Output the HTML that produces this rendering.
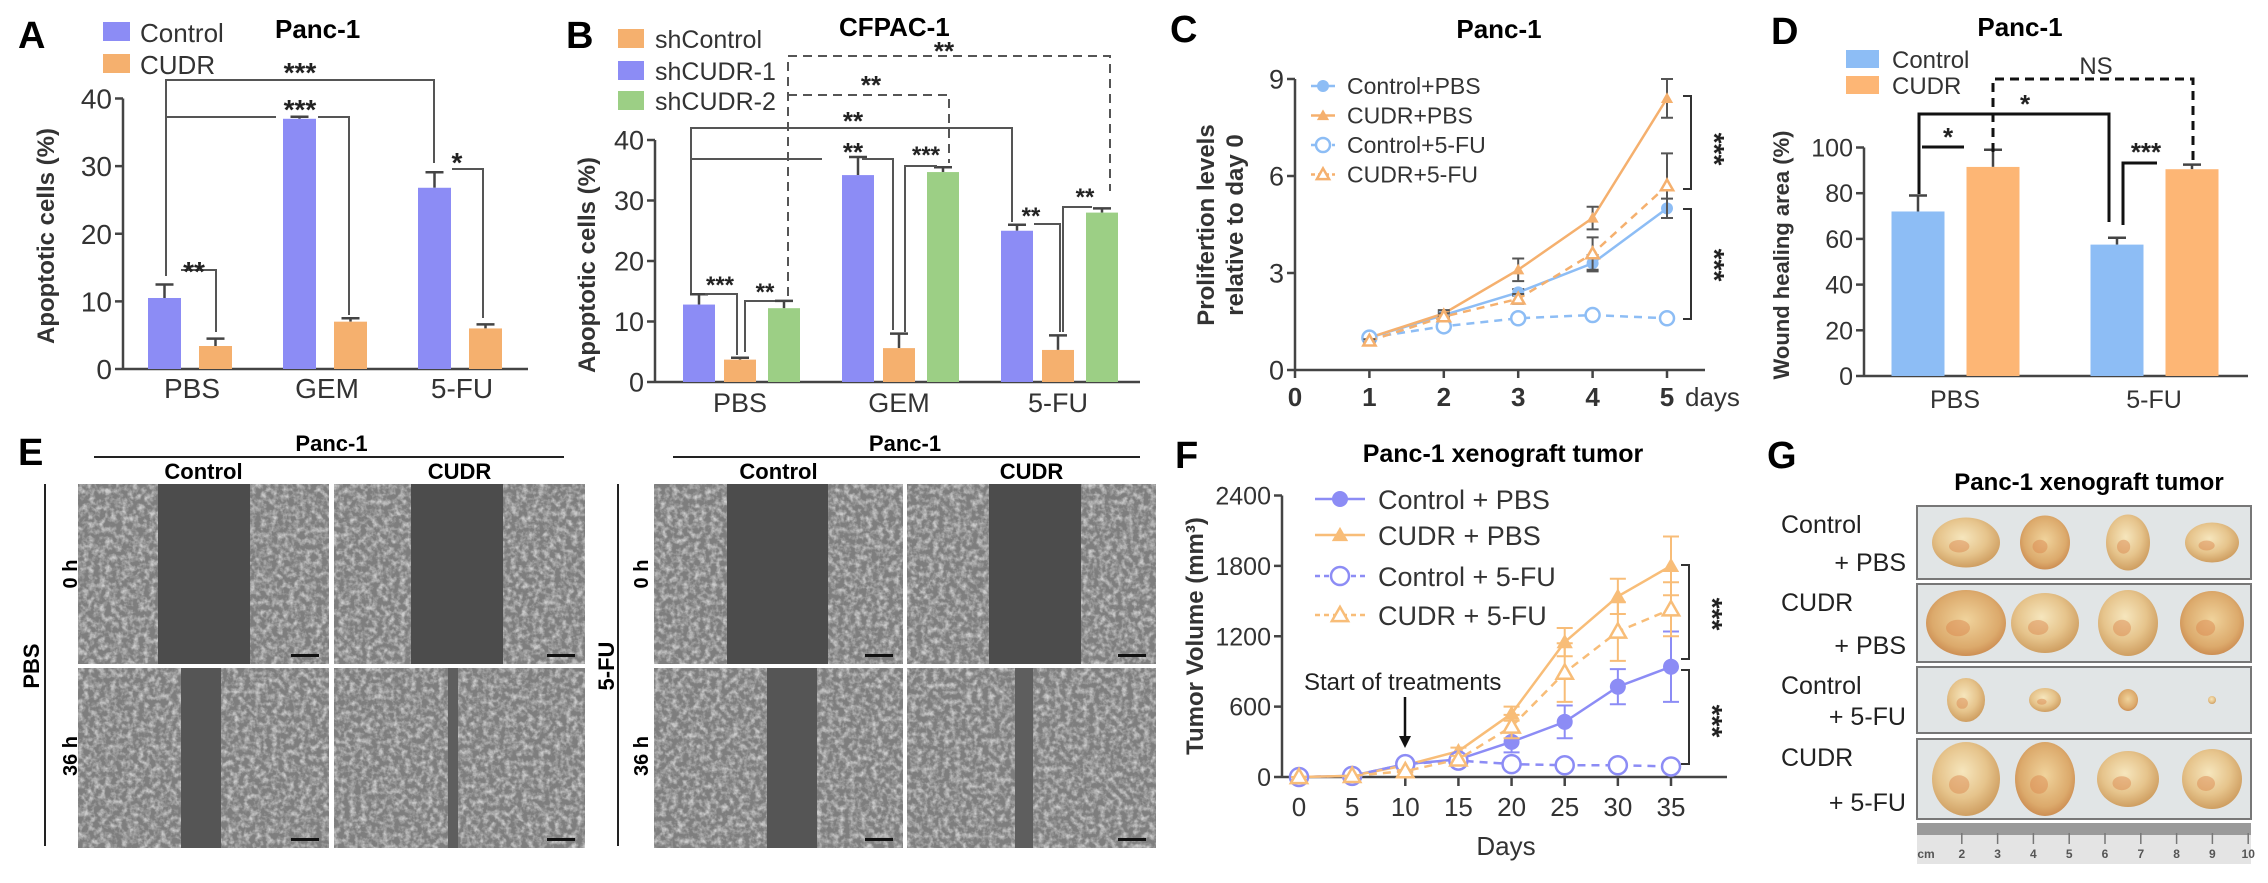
<!DOCTYPE html>
<html><head><meta charset="utf-8">
<style>
html,body{margin:0;padding:0;background:#fff;}
svg{display:block;font-family:"Liberation Sans",Arial,sans-serif;}
.b{font-weight:bold;}
</style></head>
<body>
<svg id="fig" width="2268" height="883" viewBox="0 0 2268 883" xmlns="http://www.w3.org/2000/svg">
<defs>
<filter id="noise" x="0" y="0" width="100%" height="100%">
<feTurbulence type="fractalNoise" baseFrequency="0.18" numOctaves="3" seed="3"/>
<feColorMatrix type="matrix" values="0 0 0 0 0.85  0 0 0 0 0.85  0 0 0 0 0.85  2.2 0 0 0 -0.85"/>
</filter>
<radialGradient id="tum" cx="45%" cy="40%" r="60%">
<stop offset="0" stop-color="#f6e6bd"/><stop offset="0.6" stop-color="#e6c48c"/><stop offset="1" stop-color="#cf9f62"/>
</radialGradient>
<radialGradient id="tum2" cx="50%" cy="45%" r="60%">
<stop offset="0" stop-color="#f0d39c"/><stop offset="0.7" stop-color="#dcaa6c"/><stop offset="1" stop-color="#c7844a"/>
</radialGradient>
</defs>

<!-- Panel A -->
<g id="pA">
<text x="18" y="48" font-size="38" class="b">A</text>
<rect x="103" y="22" width="27" height="19" fill="#8c8cf5"/>
<text x="140" y="42" font-size="26" fill="#333">Control</text>
<rect x="103" y="54" width="27" height="19" fill="#f5b06e"/>
<text x="140" y="74" font-size="26" fill="#333">CUDR</text>
<text x="275" y="38" font-size="26" class="b">Panc-1</text>
<text transform="translate(54,236) rotate(-90)" text-anchor="middle" font-size="24" class="b" fill="#333">Apoptotic cells (%)</text>
</g>

<!-- Panel B -->
<g id="pB">
<text x="566" y="48" font-size="38" class="b">B</text>
<rect x="618" y="29" width="26" height="19" fill="#f5b06e"/>
<text x="655" y="48" font-size="25" fill="#333">shControl</text>
<rect x="618" y="61" width="26" height="19" fill="#8c8cf5"/>
<text x="655" y="80" font-size="25" fill="#333">shCUDR-1</text>
<rect x="618" y="91" width="26" height="19" fill="#9ccf85"/>
<text x="655" y="110" font-size="25" fill="#333">shCUDR-2</text>
<text x="839" y="36" font-size="26" class="b">CFPAC-1</text>
<text transform="translate(595,265) rotate(-90)" text-anchor="middle" font-size="24" class="b" fill="#333">Apoptotic cells (%)</text>
</g>

<!-- Panel C -->
<g id="pC">
<text x="1170" y="42" font-size="38" class="b">C</text>
<text x="1499" y="38" text-anchor="middle" font-size="26" class="b">Panc-1</text>
<text transform="translate(1214,225) rotate(-90)" text-anchor="middle" font-size="24" class="b" fill="#333">Prolifertion levels</text>
<text transform="translate(1243,225) rotate(-90)" text-anchor="middle" font-size="24" class="b" fill="#333">relative to day 0</text>
<text x="1685" y="406" font-size="26" fill="#333">days</text>
</g>

<!-- Panel D -->
<g id="pD">
<text x="1771" y="44" font-size="38" class="b">D</text>
<text x="2020" y="36" text-anchor="middle" font-size="26" class="b">Panc-1</text>
<rect x="1846" y="50" width="33" height="18" fill="#8dbdf5"/>
<text x="1892" y="68" font-size="24" fill="#333">Control</text>
<rect x="1846" y="76" width="33" height="18" fill="#fdb675"/>
<text x="1892" y="94" font-size="24" fill="#333">CUDR</text>
<text transform="translate(1789,255) rotate(-90)" text-anchor="middle" font-size="22" class="b" fill="#333">Wound healing area (%)</text>
</g>

<!-- Panel E -->
<g id="pE">
<text x="18" y="465" font-size="38" class="b">E</text>
</g>

<!-- Panel F -->
<g id="pF">
<text x="1175" y="468" font-size="38" class="b">F</text>
<text x="1503" y="462" text-anchor="middle" font-size="25" class="b">Panc-1 xenograft tumor</text>
<text transform="translate(1203,636) rotate(-90)" text-anchor="middle" font-size="24" class="b" fill="#333">Tumor Volume (mm³)</text>
<text x="1506" y="855" text-anchor="middle" font-size="26" fill="#333">Days</text>
<text x="1304" y="690" font-size="24" fill="#222">Start of treatments</text>
<line x1="1405" y1="697" x2="1405" y2="740" stroke="#111" stroke-width="2.5"/>
<polygon points="1399,736 1411,736 1405,748" fill="#111"/>
</g>

<!-- Panel G -->
<g id="pG">
<text x="1767" y="468" font-size="38" class="b">G</text>
<text x="2089" y="490" text-anchor="middle" font-size="24" class="b">Panc-1 xenograft tumor</text>
</g>
</svg>

<script>
const NS = 'http://www.w3.org/2000/svg';
function mk(parent, tag, attrs, text) {
  const e = document.createElementNS(NS, tag);
  for (const k in attrs) e.setAttribute(k, attrs[k]);
  if (text != null) e.textContent = text;
  parent.appendChild(e);
  return e;
}

/* ---------- DATA ---------- */
// Panel A
const aCats = ['PBS', 'GEM', '5-FU'];
const aControl = [10.5, 37, 26.8];
const aControlErr = [2, 0.3, 2.3];
const aCudr = [3.4, 7, 6];
const aCudrErr = [1.1, 0.5, 0.6];
const aTicks = [0, 10, 20, 30, 40];
// Panel B
const bCats = ['PBS', 'GEM', '5-FU'];
const bShCudr1 = [12.8, 34.2, 25];
const bShCudr1Err = [1.7, 3, 1];
const bShControl = [3.7, 5.6, 5.3];
const bShControlErr = [0.3, 2.4, 2.4];
const bShCudr2 = [12.2, 34.7, 28];
const bShCudr2Err = [1.2, 0.8, 0.7];
const bTicks = [0, 10, 20, 30, 40];
// Panel C
const cDays = [1, 2, 3, 4, 5];
const cControlPBS = [1.0, 1.7, 2.4, 3.3, 5.0];
const cControlPBSErr = [0.1, 0.1, 0.1, 0.25, 0.3];
const cCudrPBS = [1.0, 1.75, 3.1, 4.7, 8.4];
const cCudrPBSErr = [0.1, 0.1, 0.35, 0.35, 0.6];
const cControl5FU = [1.0, 1.35, 1.6, 1.7, 1.6];
const cControl5FUErr = [0.05, 0.1, 0.1, 0.1, 0.1];
const cCudr5FU = [0.9, 1.65, 2.2, 3.6, 5.7];
const cCudr5FUErr = [0.05, 0.1, 0.15, 0.5, 1.0];
const cYTicks = [0, 3, 6, 9];
const cXTicks = [0, 1, 2, 3, 4, 5];
// Panel D
const dCats = ['PBS', '5-FU'];
const dControl = [72, 57.5];
const dControlErr = [7, 3];
const dCudr = [91.5, 90.5];
const dCudrErr = [7.5, 2];
const dTicks = [0, 20, 40, 60, 80, 100];
// Panel F
const fDays = [0, 5, 10, 15, 20, 25, 30, 35];
const fControlPBS = [0, 10, 110, 150, 300, 470, 770, 940];
const fControlPBSErr = [0, 0, 20, 20, 90, 140, 150, 300];
const fCudrPBS = [0, 10, 100, 220, 540, 1150, 1540, 1800];
const fCudrPBSErr = [0, 0, 20, 30, 60, 120, 150, 250];
const fControl5FU = [0, 10, 110, 140, 110, 100, 100, 90];
const fControl5FUErr = [0, 0, 20, 20, 20, 10, 10, 10];
const fCudr5FU = [0, 10, 50, 150, 430, 890, 1240, 1430];
const fCudr5FUErr = [0, 0, 10, 30, 100, 250, 250, 230];
const fYTicks = [0, 600, 1200, 1800, 2400];
const fXTicks = [0, 5, 10, 15, 20, 25, 30, 35];

/* ---------- generic helpers ---------- */
function yAxis(g, x, yTop, yBot, ticks, scale, fs, prefix) {
  const ax = mk(g, 'line', {x1: x, y1: yTop, x2: x, y2: yBot, stroke: '#444', 'stroke-width': 2.5});
  
  
  ticks.forEach(t => {
    const y = scale(t);
    const tk = mk(g, 'line', {x1: x - 8, y1: y, x2: x, y2: y, stroke: '#444', 'stroke-width': 2.5});
    
    
    const lb = mk(g, 'text', {x: x - 11, y: y + fs * 0.36, 'text-anchor': 'end', 'font-size': fs, fill: '#333'}, String(t));
    
    
  });
}
function xLine(g, x1, x2, y, prefix) {
  const ax = mk(g, 'line', {x1: x1, y1: y, x2: x2, y2: y, stroke: '#444', 'stroke-width': 2.5});
  
  
}
function bar(g, cx, w, v, err, color, scale, name) {
  const y0 = scale(0), y = scale(v), ye = scale(v + err);
  const eb = mk(g, 'path', {d: `M${cx},${y} V${ye} M${cx - 9},${ye} H${cx + 9}`, stroke: '#444', 'stroke-width': 2.5, fill: 'none'});
  
  
  const r = mk(g, 'rect', {x: cx - w / 2, y: y, width: w, height: y0 - y, fill: color});
  
  
}
function bracket(g, pts, name, dashed, color, sw) {
  const attrs = {points: pts, fill: 'none', stroke: color || '#555', 'stroke-width': sw || 2};
  if (dashed) attrs['stroke-dasharray'] = '9,6';
  const p = mk(g, 'polyline', attrs);
  
  
}
function star(g, x, y, s, name, fs) {
  const t = mk(g, 'text', {x: x, y: y, 'text-anchor': 'middle', 'font-size': fs || 26, fill: '#222', class: 'b'}, s);
  
  
}
function catLabel(g, x, y, s, fs, name) {
  const t = mk(g, 'text', {x: x, y: y, 'text-anchor': 'middle', 'font-size': fs, fill: '#333'}, s);
  
  
}
function marker(g, type, x, y, c, r) {
  if (type === 'dot') return mk(g, 'circle', {cx: x, cy: y, r: r, fill: c});
  if (type === 'ocirc') return mk(g, 'circle', {cx: x, cy: y, r: r + 1, fill: '#fff', stroke: c, 'stroke-width': 2.5});
  const h = r * 1.7;
  const pts = `${x},${y - h * 0.6} ${x - h * 0.6},${y + h * 0.45} ${x + h * 0.6},${y + h * 0.45}`;
  if (type === 'tri') return mk(g, 'polygon', {points: pts, fill: c});
  return mk(g, 'polygon', {points: pts, fill: '#fff', stroke: c, 'stroke-width': 2.5});
}

/* ---------- Panel A ---------- */
(function () {
  const g = document.getElementById('pA');
  const yA = v => 369 - v * (369 - 98.5) / 40;
  const cx = i => 190 + i * 135;
  yAxis(g, 123, 98.5, 369, aTicks, yA, 28, 'panel-a');
  xLine(g, 123, 528, 369, 'panel-a');
  aCats.forEach((c, i) => {
    bar(g, cx(i) - 25.5, 33, aControl[i], aControlErr[i], '#8c8cf5', yA, 'bar-a-control-' + c);
    bar(g, cx(i) + 25.5, 33, aCudr[i], aCudrErr[i], '#f5b06e', yA, 'bar-a-cudr-' + c);
    catLabel(g, cx(i) + 2, 398, c, 28, 'panel-a-x-label');
  });
  bracket(g, '166,276 166,80 434,80 434,163', 'sig-a-pbs-5fu');
  star(g, 300, 82, '***', 'sig-a-pbs-5fu-stars', 28);
  bracket(g, '166,117 276,117', 'sig-a-pbs-gem-left');
  bracket(g, '318,117 349,117 349,315', 'sig-a-pbs-gem-right');
  star(g, 300, 119, '***', 'sig-a-pbs-gem-stars', 28);
  bracket(g, '181,270 216,270 216,332', 'sig-a-pbs');
  star(g, 194, 281, '**', 'sig-a-pbs-stars', 28);
  bracket(g, '452,169 483,169 483,318', 'sig-a-5fu');
  star(g, 457, 172, '*', 'sig-a-5fu-stars', 28);
})();

/* ---------- Panel B ---------- */
(function () {
  const g = document.getElementById('pB');
  const yB = v => 382 - v * 242 / 40;
  const cx = i => 740 + i * 159;
  yAxis(g, 655, 140, 382, bTicks, yB, 27, 'panel-b');
  xLine(g, 655, 1140, 382, 'panel-b');
  bCats.forEach((c, i) => {
    bar(g, cx(i) - 41, 32, bShCudr1[i], bShCudr1Err[i], '#8c8cf5', yB, 'bar-b-shcudr1-' + c);
    bar(g, cx(i), 32, bShControl[i], bShControlErr[i], '#f5b06e', yB, 'bar-b-shcontrol-' + c);
    bar(g, cx(i) + 44, 32, bShCudr2[i], bShCudr2Err[i], '#9ccf85', yB, 'bar-b-shcudr2-' + c);
    catLabel(g, cx(i), 412, c, 27, 'panel-b-x-label');
  });
  bracket(g, '788,296 788,56 1110,56 1110,191', 'sig-b-dashed-5fu', true);
  star(g, 944, 60, '**', 'sig-b-dashed-5fu-stars');
  bracket(g, '788,95 949,95 949,163', 'sig-b-dashed-gem', true);
  star(g, 871, 94, '**', 'sig-b-dashed-gem-stars');
  bracket(g, '691,293 691,128 1012,128 1012,222', 'sig-b-solid-5fu');
  star(g, 853, 130, '**', 'sig-b-solid-5fu-stars');
  bracket(g, '691,159 822,159', 'sig-b-solid-gem-left');
  bracket(g, '862,159 893,159 893,330', 'sig-b-solid-gem-right');
  star(g, 853, 161, '**', 'sig-b-solid-gem-stars');
  bracket(g, '705,294 737,294 737,355', 'sig-b-pbs-1');
  star(g, 720, 293, '***', 'sig-b-pbs-1-stars', 24);
  bracket(g, '745,352 745,301 775,301', 'sig-b-pbs-2');
  star(g, 765, 300, '**', 'sig-b-pbs-2-stars', 24);
  bracket(g, '905,332 905,166 937,166', 'sig-b-gem');
  star(g, 926, 163, '***', 'sig-b-gem-stars', 24);
  bracket(g, '1034,224 1060,224 1060,332', 'sig-b-5fu-1');
  star(g, 1031, 224, '**', 'sig-b-5fu-1-stars', 24);
  bracket(g, '1063,332 1063,207 1092,207', 'sig-b-5fu-2');
  star(g, 1085, 205, '**', 'sig-b-5fu-2-stars', 24);
})();

/* ---------- Panel C ---------- */
(function () {
  const g = document.getElementById('pC');
  const yC = v => 370 - v * 291 / 9;
  const xC = d => 1295 + d * 74.4;
  yAxis(g, 1295, 79, 370, cYTicks, yC, 27, 'panel-c');
  xLine(g, 1295, 1705, 370, 'panel-c');
  cXTicks.forEach(d => {
    const tk = mk(g, 'line', {x1: xC(d), y1: 370, x2: xC(d), y2: 378, stroke: '#444', 'stroke-width': 2.5});
    
    
    const t = mk(g, 'text', {x: xC(d), y: 406, 'text-anchor': 'middle', 'font-size': 26, fill: '#333', class: 'b'}, String(d));
    
    
  });
  const series = [
    {v: cControlPBS, e: cControlPBSErr, c: '#8dbdf5', dash: null, m: 'dot', n: 'Control+PBS'},
    {v: cCudrPBS, e: cCudrPBSErr, c: '#f5b06e', dash: null, m: 'tri', n: 'CUDR+PBS'},
    {v: cControl5FU, e: cControl5FUErr, c: '#8dbdf5', dash: '8,6', m: 'ocirc', n: 'Control+5-FU'},
    {v: cCudr5FU, e: cCudr5FUErr, c: '#f5b06e', dash: '8,6', m: 'otri', n: 'CUDR+5-FU'}
  ];
  series.forEach((s, k) => {
    const pts = cDays.map((d, i) => xC(d) + ',' + yC(s.v[i])).join(' ');
    const la = {points: pts, fill: 'none', stroke: s.c, 'stroke-width': 2.5};
    if (s.dash) la['stroke-dasharray'] = s.dash;
    const line = mk(g, 'polyline', la);
    
    
    cDays.forEach((d, i) => {
      const x = xC(d), y = yC(s.v[i]), ye = yC(s.v[i] + s.e[i]), yl = yC(s.v[i] - s.e[i]);
      const eb = mk(g, 'path', {d: `M${x},${yl} V${ye} M${x - 6},${ye} H${x + 6} M${x - 6},${yl} H${x + 6}`, stroke: '#555', 'stroke-width': 2, fill: 'none'});
      
      
      const mkr = marker(g, s.m, x, y, s.c, 6);
      
      
    });
    const ly = 86 + k * 29.5;
    const lla = {x1: 1311, y1: ly, x2: 1335, y2: ly, stroke: s.c, 'stroke-width': 2.5};
    if (s.dash) lla['stroke-dasharray'] = '4,3';
    const ll = mk(g, 'line', lla);
    
    
    const lm = marker(g, s.m, 1323, ly, s.c, 6);
    
    
    const lt = mk(g, 'text', {x: 1347, y: ly + 8, 'font-size': 23, fill: '#333'}, s.n);
    
    
  });
  bracket(g, '1683,96 1691,96 1691,189 1683,189', 'sig-c-top', false, '#333', 2);
  bracket(g, '1683,209 1691,209 1691,319 1683,319', 'sig-c-bottom', false, '#333', 2);
  const s1 = mk(g, 'text', {transform: 'translate(1705,149) rotate(90)', 'text-anchor': 'middle', 'font-size': 28, class: 'b', fill: '#222'}, '***');
  
  
  const s2 = mk(g, 'text', {transform: 'translate(1705,265) rotate(90)', 'text-anchor': 'middle', 'font-size': 28, class: 'b', fill: '#222'}, '***');
  
  
})();

/* ---------- Panel D ---------- */
(function () {
  const g = document.getElementById('pD');
  const yD = v => 376 - v * 228.5 / 100;
  const cx = i => 1955 + i * 199;
  yAxis(g, 1864, 147.5, 376, dTicks, yD, 25, 'panel-d');
  xLine(g, 1864, 2248, 376, 'panel-d');
  dCats.forEach((c, i) => {
    bar(g, cx(i) - 37, 53, dControl[i], dControlErr[i], '#8dbdf5', yD, 'bar-d-control-' + c);
    bar(g, cx(i) + 38, 53, dCudr[i], dCudrErr[i], '#fdb675', yD, 'bar-d-cudr-' + c);
    catLabel(g, cx(i), 408, c, 25, 'panel-d-x-label');
  });
  bracket(g, '1919,194 1919,114 2109,114 2109,222', 'sig-d-pbs-5fu', false, '#111', 3);
  star(g, 2025, 113, '*', 'sig-d-pbs-5fu-stars', 26);
  bracket(g, '1922,147 1964,147', 'sig-d-pbs', false, '#111', 3);
  star(g, 1948, 146, '*', 'sig-d-pbs-stars', 26);
  bracket(g, '2123,225 2123,163 2157,163', 'sig-d-5fu', false, '#111', 3);
  star(g, 2146, 161, '***', 'sig-d-5fu-stars', 26);
  bracket(g, '1993,152 1993,79 2193,79 2193,160', 'sig-d-ns', true, '#111', 3);
  const ns = mk(g, 'text', {x: 2096, y: 74, 'text-anchor': 'middle', 'font-size': 24, fill: '#333'}, 'NS');
  
  
})();

/* ---------- Panel E ---------- */
(function () {
  const g = document.getElementById('pE');
  const blocks = [
    {x0: 78, x1: 334, w: 251, lineX1: 94, lineX2: 564, vline: 45, hLab: 69, side: 'PBS', sideX: 31,
     gaps: [[158, 92, '#4c4c4c'], [411, 92, '#4c4c4c'], [181, 40, '#555'], [448, 10, '#5e5e5e']]},
    {x0: 654, x1: 907, w: 249, lineX1: 673, lineX2: 1140, vline: 618, hLab: 640, side: '5-FU', sideX: 606,
     gaps: [[727, 101, '#4c4c4c'], [989, 92, '#4c4c4c'], [767, 50, '#555'], [1015, 18, '#5e5e5e']]}
  ];
  blocks.forEach((b, bi) => {
    const cxm = (b.x0 + b.x1 + b.w) / 2;
    const t = mk(g, 'text', {x: cxm, y: 451, 'text-anchor': 'middle', 'font-size': 22, class: 'b'}, 'Panc-1');
    
    
    const l = mk(g, 'line', {x1: b.lineX1, y1: 457, x2: b.lineX2, y2: 457, stroke: '#222', 'stroke-width': 2});
    
    
    const c1 = mk(g, 'text', {x: b.x0 + b.w / 2, y: 479, 'text-anchor': 'middle', 'font-size': 22, class: 'b'}, 'Control');
    
    
    const c2 = mk(g, 'text', {x: b.x1 + b.w / 2, y: 479, 'text-anchor': 'middle', 'font-size': 22, class: 'b'}, 'CUDR');
    
    
    const vl = mk(g, 'line', {x1: b.vline, y1: 484, x2: b.vline, y2: 846, stroke: '#222', 'stroke-width': 2});
    
    
    const sd = mk(g, 'text', {transform: `translate(${b.sideX + 8},666) rotate(-90)`, 'text-anchor': 'middle', 'font-size': 22, class: 'b'}, b.side);
    
    
    const h0 = mk(g, 'text', {transform: `translate(${b.hLab + 8},574) rotate(-90)`, 'text-anchor': 'middle', 'font-size': 20, class: 'b'}, '0 h');
    
    
    const h36 = mk(g, 'text', {transform: `translate(${b.hLab + 8},756) rotate(-90)`, 'text-anchor': 'middle', 'font-size': 20, class: 'b'}, '36 h');
    
    
    const cells = [[b.x0, 484], [b.x1, 484], [b.x0, 668], [b.x1, 668]];
    cells.forEach((cc, k) => {
      const im = mk(g, 'g', {});
      
      
      mk(im, 'rect', {x: cc[0], y: cc[1], width: b.w, height: 180, fill: '#7e7e7e'});
      mk(im, 'rect', {x: cc[0], y: cc[1], width: b.w, height: 180, fill: '#fff', filter: 'url(#noise)', opacity: 0.7});
      const gp = b.gaps[k];
      mk(im, 'rect', {x: gp[0], y: cc[1], width: gp[1], height: 180, fill: gp[2]});
      mk(im, 'rect', {x: cc[0] + b.w - 38, y: cc[1] + 170, width: 28, height: 3, fill: '#111'});
    });
  });
})();

/* ---------- Panel F ---------- */
(function () {
  const g = document.getElementById('pF');
  const yF = v => 777 - v * 281.5 / 2400;
  const xF = d => 1299 + d * 372 / 35;
  yAxis(g, 1282, 495.5, 777, fYTicks, yF, 25, 'panel-f');
  xLine(g, 1282, 1727, 777, 'panel-f');
  fXTicks.forEach(d => {
    const tk = mk(g, 'line', {x1: xF(d), y1: 777, x2: xF(d), y2: 786, stroke: '#444', 'stroke-width': 2.5});
    
    
    const t = mk(g, 'text', {x: xF(d), y: 816, 'text-anchor': 'middle', 'font-size': 26, fill: '#333'}, String(d));
    
    
  });
  const series = [
    {v: fControlPBS, e: fControlPBSErr, c: '#8c8cf5', dash: null, m: 'dot', n: 'Control + PBS'},
    {v: fCudrPBS, e: fCudrPBSErr, c: '#f8bd78', dash: null, m: 'tri', n: 'CUDR + PBS'},
    {v: fControl5FU, e: fControl5FUErr, c: '#8c8cf5', dash: '8,6', m: 'ocirc', n: 'Control + 5-FU'},
    {v: fCudr5FU, e: fCudr5FUErr, c: '#f8bd78', dash: '8,6', m: 'otri', n: 'CUDR + 5-FU'}
  ];
  const legY = [499, 535, 576, 615];
  series.forEach((s, k) => {
    const pts = fDays.map((d, i) => xF(d) + ',' + yF(s.v[i])).join(' ');
    const la = {points: pts, fill: 'none', stroke: s.c, 'stroke-width': 2.5};
    if (s.dash) la['stroke-dasharray'] = s.dash;
    const line = mk(g, 'polyline', la);
    
    
    fDays.forEach((d, i) => {
      const x = xF(d), y = yF(s.v[i]), ye = yF(s.v[i] + s.e[i]), yl = yF(Math.max(0, s.v[i] - s.e[i]));
      const eb = mk(g, 'path', {d: `M${x},${yl} V${ye} M${x - 8},${ye} H${x + 8} M${x - 8},${yl} H${x + 8}`, stroke: s.c, 'stroke-width': 2, fill: 'none'});
      
      
      const mkr = marker(g, s.m, x, y, s.c, 8);
      
      
    });
    const ly = legY[k];
    const lla = {x1: 1315, y1: ly, x2: 1365, y2: ly, stroke: s.c, 'stroke-width': 2.5};
    if (s.dash) lla['stroke-dasharray'] = '5,4';
    const ll = mk(g, 'line', lla);
    
    
    const lm = marker(g, s.m, 1340, ly, s.c, 8);
    
    
    const lt = mk(g, 'text', {x: 1378, y: ly + 10, 'font-size': 27, fill: '#333'}, s.n);
    
    
  });
  bracket(g, '1681,565 1689,565 1689,659 1681,659', 'sig-f-top', false, '#333', 2);
  bracket(g, '1681,670 1689,670 1689,764 1681,764', 'sig-f-bottom', false, '#333', 2);
  const s1 = mk(g, 'text', {transform: 'translate(1703,614) rotate(90)', 'text-anchor': 'middle', 'font-size': 28, class: 'b', fill: '#222'}, '***');
  
  
  const s2 = mk(g, 'text', {transform: 'translate(1703,721) rotate(90)', 'text-anchor': 'middle', 'font-size': 28, class: 'b', fill: '#222'}, '***');
  
  
})();

/* ---------- Panel G ---------- */
(function () {
  const g = document.getElementById('pG');
  const rows = [
    {y: 506, h: 73, l1: 'Control', l2: '+ PBS', t: [[34, 25], [25, 27], [22, 28], [27, 20]]},
    {y: 584, h: 78, l1: 'CUDR', l2: '+ PBS', t: [[40, 33], [34, 30], [30, 33], [32, 32]]},
    {y: 667, h: 66, l1: 'Control', l2: '+ 5-FU', t: [[19, 22], [16, 12], [10, 11], [4, 4]]},
    {y: 739, h: 80, l1: 'CUDR', l2: '+ 5-FU', t: [[34, 37], [30, 38], [31, 28], [30, 30]]}
  ];
  const tx = [1966, 2045, 2128, 2212];
  rows.forEach((r, ri) => {
    const bg = mk(g, 'rect', {x: 1917, y: r.y, width: 334, height: r.h, fill: '#e1e5e6', stroke: '#777', 'stroke-width': 2});
    
    
    const a = mk(g, 'text', {x: 1781, y: r.y + 27, 'font-size': 25, fill: '#222'}, r.l1);
    
    
    const b = mk(g, 'text', {x: 1906, y: r.y + r.h - 8, 'text-anchor': 'end', 'font-size': 25, fill: '#222'}, r.l2);
    
    
    r.t.forEach((s, k) => {
      const ry = Math.min(s[1], r.h / 2 - 3);
      const e = mk(g, 'ellipse', {cx: tx[k], cy: r.y + r.h / 2, rx: s[0], ry: ry, fill: (ri + k) % 3 === 1 ? 'url(#tum2)' : 'url(#tum)'});
      
      
      if (s[0] > 12) {
        const sp = mk(g, 'ellipse', {cx: tx[k] - s[0] * 0.2, cy: r.y + r.h / 2 + ry * 0.15, rx: s[0] * 0.3, ry: ry * 0.25, fill: '#d9824a', opacity: 0.45});
        
        
      }
    });
  });
  const ruler = mk(g, 'rect', {x: 1917, y: 823, width: 334, height: 41, fill: '#e4e4e4'});
  
  
  const band = mk(g, 'rect', {x: 1917, y: 823, width: 334, height: 12, fill: '#9a9a9a'});
  
  
  const cmLab = ['cm', '2', '3', '4', '5', '6', '7', '8', '9', '10'];
  cmLab.forEach((s, i) => {
    const x = 1926 + i * 35.8;
    if (i > 0) {
      const tk = mk(g, 'line', {x1: x, y1: 833, x2: x, y2: 844, stroke: '#777', 'stroke-width': 1.5});
      
      
    }
    const t = mk(g, 'text', {x: x, y: 858, 'text-anchor': 'middle', 'font-size': 12, class: 'b', fill: '#555'}, s);
    
    
  });
})();
</script>
</body></html>
